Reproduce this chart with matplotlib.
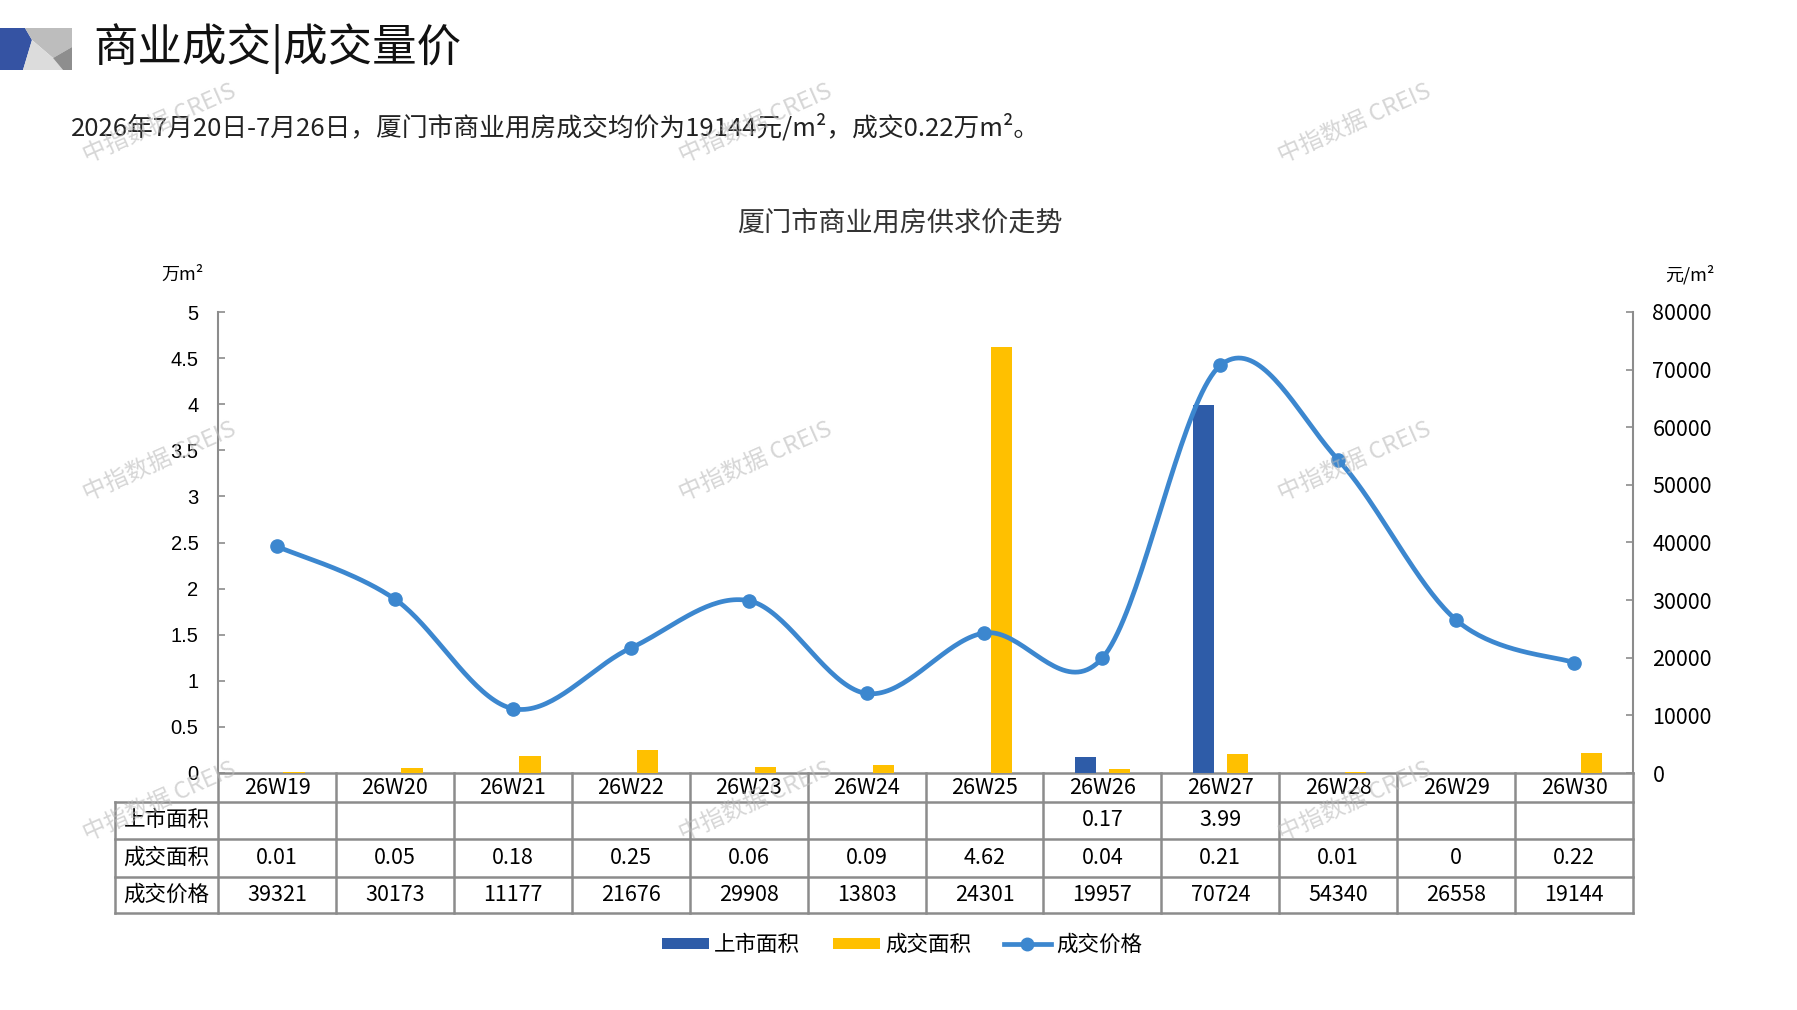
import numpy as np
import matplotlib
matplotlib.use('Agg')
import matplotlib.pyplot as plt
from matplotlib.patches import Polygon, Patch
from matplotlib.lines import Line2D

plt.rcParams['font.family'] = ['Noto Sans CJK SC', 'DejaVu Sans']

# data
weeks = ['26W19', '26W20', '26W21', '26W22', '26W23', '26W24',
         '26W25', '26W26', '26W27', '26W28', '26W29', '26W30']
supply_area = [None, None, None, None, None, None, None, 0.17, 3.99, None, None, None]
deal_area = [0.01, 0.05, 0.18, 0.25, 0.06, 0.09, 4.62, 0.04, 0.21, 0.01, 0, 0.22]
deal_price = [39321, 30173, 11177, 21676, 29908, 13803, 24301, 19957, 70724, 54340, 26558, 19144]
row_names = ['上市面积', '成交面积', '成交价格']
left_ticks = [0, 0.5, 1, 1.5, 2, 2.5, 3, 3.5, 4, 4.5, 5]
right_ticks = [0, 10000, 20000, 30000, 40000, 50000, 60000, 70000, 80000]

BLUE = '#2E5CA8'
YELLOW = '#FFC000'
LINE = '#3C87CF'
GRID = '#8C8C8C'
NUM_FONT = ['Liberation Sans Narrow', 'Noto Sans CJK SC']

W, H = 1797, 1010
fig = plt.figure(figsize=(W / 100, H / 100), dpi=100)


def fx(px):
    return px / W


def fy(py):
    return 1 - py / H


# header logo
for pts, col in [([(0, 28), (25, 28), (32, 40), (23, 70), (0, 70)], '#3553A3'),
                 ([(25, 28), (72, 28), (72, 47), (53, 58), (32, 40)], '#BDBDBD'),
                 ([(32, 40), (53, 58), (63, 70), (23, 70)], '#DCDCDC'),
                 ([(53, 58), (72, 47), (72, 70), (63, 70)], '#8E8E8E')]:
    fig.patches.append(Polygon([(fx(a), fy(b)) for a, b in pts], closed=True,
                               facecolor=col, edgecolor='none',
                               transform=fig.transFigure))

fig.text(fx(93), fy(49), '商业成交|成交量价', fontsize=32, va='center', ha='left', color='#111111')
fig.text(fx(71), fy(128), '2026年7月20日-7月26日，厦门市商业用房成交均价为19144元/m²，成交0.22万m²。',
         fontsize=18.5, va='center', ha='left', color='#222222')
fig.text(fx(900), fy(223), '厦门市商业用房供求价走势', fontsize=19.5, va='center', ha='center', color='#333333')

# main axes
x0, x1 = 218, 1633
ytop, ybot = 312, 773
ax = fig.add_axes([fx(x0), fy(ybot), fx(x1) - fx(x0), fy(ytop) - fy(ybot)])
ax2 = ax.twinx()
ax.set_zorder(1)
ax2.set_zorder(2)
ax.patch.set_visible(False)
ax2.patch.set_visible(False)

x = np.arange(len(weeks))
bw = 0.18
off = 0.145
sup = np.array([np.nan if v is None else v for v in supply_area], dtype=float)
ax.bar(x - off, sup, width=bw, color=BLUE, zorder=3)
ax.bar(x + off, deal_area, width=bw, color=YELLOW, zorder=3)
ax.set_xlim(-0.5, len(weeks) - 0.5)
ax.set_ylim(0, 5)
ax.set_yticks(left_ticks)
ax.set_yticklabels([f'{t:g}' for t in left_ticks], family=['Liberation Sans', 'Noto Sans CJK SC'],
                   fontsize=14.5)
ax.set_xticks([])

# excel-style smoothed line (cardinal bezier)
px = x.astype(float)
py = np.array(deal_price, dtype=float)
P = np.column_stack([px, py])
Pe = np.vstack([P[0], P, P[-1]])
curve = []
t = np.linspace(0, 1, 40)[:, None]
for i in range(len(P) - 1):
    p0, p3 = Pe[i + 1], Pe[i + 2]
    c1 = p0 + (Pe[i + 2] - Pe[i]) / 6
    c2 = p3 - (Pe[i + 3] - Pe[i + 1]) / 6
    seg = (1 - t) ** 3 * p0 + 3 * (1 - t) ** 2 * t * c1 + 3 * (1 - t) * t ** 2 * c2 + t ** 3 * p3
    curve.append(seg)
curve = np.vstack(curve)
ax2.plot(curve[:, 0], curve[:, 1], color=LINE, lw=3.4, solid_capstyle='round', zorder=4)
ax2.plot(px, py, 'o', color=LINE, ms=9.5, zorder=5)
ax2.set_ylim(0, 80000)
ax2.set_yticks(right_ticks)
ax2.set_yticklabels([str(t) for t in right_ticks], family=NUM_FONT, fontsize=15.5)

for a in (ax, ax2):
    for s in a.spines.values():
        s.set_visible(False)
    a.tick_params(axis='y', direction='in', length=5, color=GRID, width=1.2)
ax.spines['left'].set_visible(True)
ax.spines['left'].set_color(GRID)
ax.spines['left'].set_linewidth(1.5)
ax2.spines['right'].set_visible(True)
ax2.spines['right'].set_color(GRID)
ax2.spines['right'].set_linewidth(1.5)
ax.tick_params(axis='y', pad=14)
ax2.tick_params(axis='y', pad=14)

fig.text(fx(183), fy(275), '万m²', fontsize=13, ha='center', va='center')
fig.text(fx(1690), fy(275), '元/m²', fontsize=13, ha='center', va='center')

# data table
tl, tr = 115, x1
rows_y = [773, 802, 839, 877, 913]
tab = fig.add_axes([fx(tl), fy(rows_y[-1]), fx(tr) - fx(tl), fy(rows_y[0]) - fy(rows_y[-1])])
cat_w = (x1 - x0) / len(weeks)
lab_w = (x0 - tl) / cat_w
tab.set_xlim(-0.5 - lab_w, len(weeks) - 0.5)
tab.set_ylim(rows_y[-1], rows_y[0])
tab.axis('off')
lx = -0.5 - lab_w
right = len(weeks) - 0.5
kw = dict(color=GRID, lw=1.8, clip_on=False)
tab.plot([-0.5, right], [rows_y[0]] * 2, **kw)
for ry in rows_y[1:]:
    tab.plot([lx, right], [ry] * 2, **kw)
tab.plot([lx, lx], [rows_y[1], rows_y[-1]], **kw)
for i in range(len(weeks) + 1):
    tab.plot([i - 0.5] * 2, [rows_y[0], rows_y[-1]], **kw)

mid = [(rows_y[k] + rows_y[k + 1]) / 2 for k in range(4)]
for i, w in enumerate(weeks):
    tab.text(i, mid[0], w, ha='center', va='center', fontsize=15.5, family=NUM_FONT)
    if supply_area[i] is not None:
        tab.text(i, mid[1], f'{supply_area[i]:.2f}', ha='center', va='center', fontsize=15.5, family=NUM_FONT)
    da = deal_area[i]
    tab.text(i, mid[2], '0' if da == 0 else f'{da:.2f}', ha='center', va='center', fontsize=15.5, family=NUM_FONT)
    tab.text(i, mid[3], str(deal_price[i]), ha='center', va='center', fontsize=15.5, family=NUM_FONT)
for k, name in enumerate(row_names):
    tab.text(lx + lab_w / 2, mid[k + 1], name, ha='center', va='center', fontsize=15.5)

# legend
handles = [Patch(facecolor=BLUE, edgecolor='none'),
           Patch(facecolor=YELLOW, edgecolor='none'),
           Line2D([], [], color=LINE, lw=3.4, marker='o', ms=9)]
fig.legend(handles, ['上市面积', '成交面积', '成交价格'], loc='center',
           bbox_to_anchor=(fx(902), fy(945)), ncol=3, frameon=False, fontsize=15.5,
           handlelength=2.2, handleheight=0.45, handletextpad=0.25, columnspacing=1.5)

# watermarks
for wy in (124, 462, 802):
    for wx in (160, 756, 1355):
        fig.text(fx(wx), fy(wy), '中指数据 CREIS', fontsize=17, color='#BBBBBB', alpha=0.6,
                 rotation=24, ha='center', va='center', zorder=10)

fig.savefig('out.png', dpi=100)
